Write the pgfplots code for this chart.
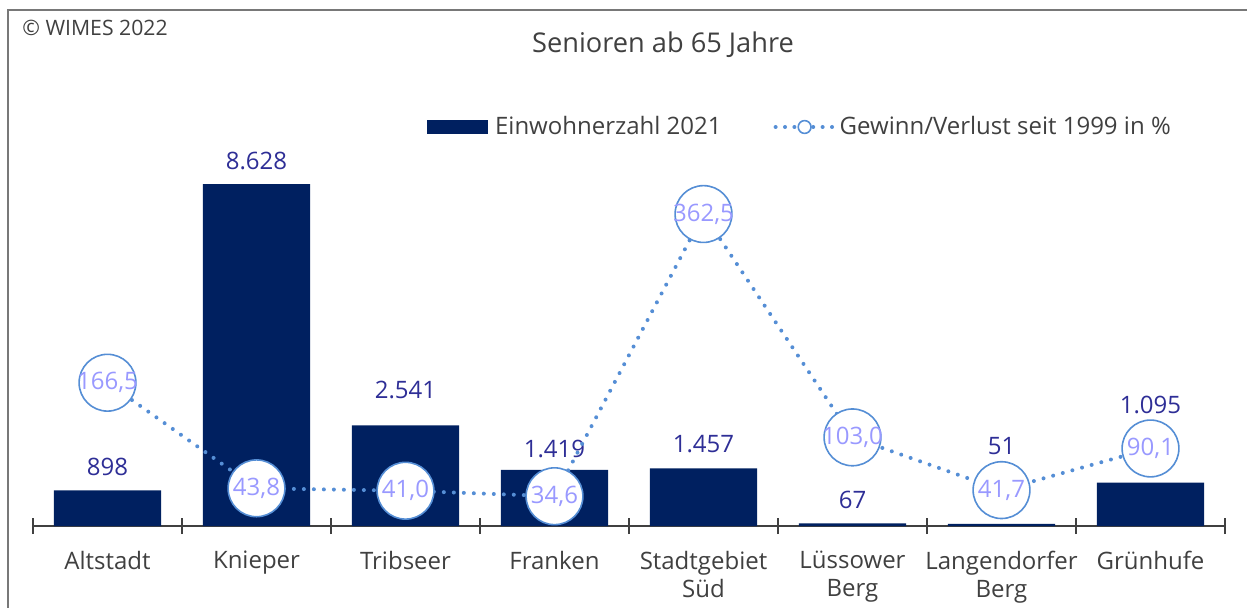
\documentclass[border=0pt]{standalone}
\usepackage{fontspec}
\setmainfont{Open Sans}
\usepackage{pgfplots}
\pgfplotsset{compat=1.18}
\definecolor{barblue}{RGB}{0,32,96}
\definecolor{lblblue}{RGB}{46,46,150}
\definecolor{linblue}{RGB}{85,142,213}
\definecolor{circtxt}{RGB}{153,153,255}
\definecolor{txtgray}{RGB}{64,64,64}
\definecolor{framegray}{RGB}{120,120,120}
\newcommand{\fs}{\fontsize{12}{14}\selectfont}
\begin{document}
\begin{tikzpicture}
\useasboundingbox (0,0) rectangle (623.5pt,303.5pt);
\draw[framegray, line width=0.75pt] (4pt,-2pt) -- (4pt,298.5pt) -- (626pt,298.5pt);
\node[font=\fontsize{13.6}{15}\selectfont, text=txtgray] at (331.5pt,281pt) {Senioren ab 65 Jahre};
\node[anchor=west, inner sep=0pt, font=\fontsize{10.6}{12}\selectfont, text=txtgray] at (11pt,289.5pt) {© WIMES 2022};
% primary axis: bars
\begin{axis}[
  at={(16.5pt,40.5pt)}, anchor=south west,
  scale only axis, width=596pt, height=188pt,
  xmin=-0.5, xmax=7.5, ymin=0, ymax=9486,
  clip=false,
  axis x line*=bottom, axis y line=none,
  x axis line style={txtgray, line width=0.75pt},
  xtick={0,...,7},
  xticklabels={Altstadt, Knieper, Tribseer, Franken, {Stadtgebiet\\Süd}, {Lüssower\\Berg}, {Langendorfer\\Berg}, Grünhufe},
  minor xtick={-0.5,0.5,...,7.5},
  major tick length=0pt, minor tick length=8pt,
  tick align=center,
  minor tick style={txtgray, line width=0.6pt},
  xticklabel style={font=\fs, text=txtgray, align=center, yshift=-9pt},
]
\addplot[ybar, bar width=0.72, fill=barblue, draw=none]
  coordinates {(0,898) (1,8628) (2,2541) (3,1419) (4,1457) (5,67) (6,51) (7,1095)};
% value labels of the bars, placed at their label heights
\addplot[draw=none, mark=none, forget plot, point meta=explicit,
  nodes near coords={\pgfmathprintnumber[fixed, precision=0, 1000 sep={.}, assume math mode=true]{\pgfplotspointmeta}},
  nodes near coords style={anchor=center, text=lblblue, font=\fs}]
  coordinates {(0,1488) [898] (1,9208) [8628] (2,3431) [2541] (3,1955) [1419]
               (4,2069) [1457] (5,656) [67] (6,2018) [51] (7,3065) [1095]};
\end{axis}
% secondary axis: percentage line
\begin{axis}[
  at={(16.5pt,40.5pt)}, anchor=south west,
  scale only axis, width=596pt, height=188pt,
  xmin=-0.5, xmax=7.5, ymin=0, ymax=436.9,
  clip=false, axis lines=none, ticks=none,
  legend columns=2,
  legend style={at={(0.6443,1.0612)}, anchor=center, draw=none, fill=none,
    font=\fs, text=txtgray,
    /tikz/every even column/.append style={column sep=24pt}},
  legend cell align=left,
]
\addlegendimage{legend image code/.code={\fill[barblue] (0pt,-3.25pt) rectangle (30pt,3.25pt);}}
\addlegendentry{\hspace{1.5pt}Einwohnerzahl 2021}
\addplot[linblue, line width=2pt, dash pattern=on 0pt off 5pt, line cap=round,
  mark=*, mark size=14.2pt,
  mark options={solid, fill=white, draw=linblue, line width=0.8pt},
  nodes near coords={\pgfmathprintnumber[fixed, fixed zerofill, precision=1, use comma, assume math mode=true]{\pgfplotspointmeta}},
  nodes near coords style={anchor=center, text=circtxt, font=\fs},
  legend image code/.code={
    \draw[linblue, line width=2pt, dash pattern=on 0pt off 4.7pt, line cap=round] (0pt,0pt) -- (29pt,0pt);
    \draw[solid, linblue, fill=white, line width=0.8pt] (14.5pt,0pt) circle (3.2pt);}]
  coordinates {(0,166.5) (1,43.8) (2,41.0) (3,34.6) (4,362.5) (5,103.0) (6,41.7) (7,90.1)};
\addlegendentry{Gewinn/Verlust seit 1999 in \%}
\end{axis}
\end{tikzpicture}
\end{document}
